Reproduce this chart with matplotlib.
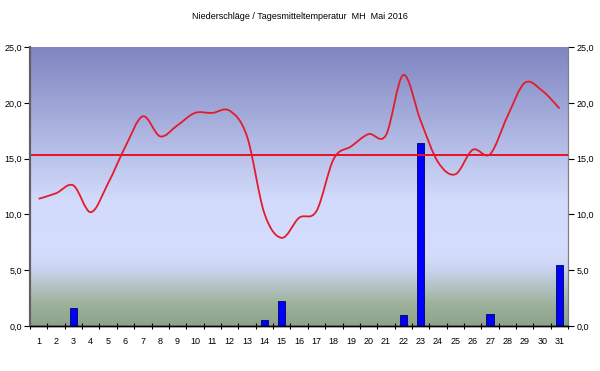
import matplotlib.pyplot as plt
import numpy as np
from matplotlib.colors import LinearSegmentedColormap
from matplotlib.path import Path
from matplotlib.patches import PathPatch

plt.rcParams['font.family'] = ['Liberation Sans', 'DejaVu Sans']

days = list(range(1, 32))
temp = [11.4, 11.9, 12.6, 10.2, 12.8, 16.1, 18.8, 17.0, 18.0, 19.1,
        19.1, 19.3, 17.0, 10.1, 7.9, 9.7, 10.3, 15.0, 16.1, 17.2,
        17.1, 22.5, 18.4, 14.7, 13.6, 15.8, 15.4, 18.8, 21.8, 21.1, 19.5]
rain = [0, 0, 1.6, 0, 0, 0, 0, 0, 0, 0,
        0, 0, 0, 0.5, 2.2, 0, 0, 0, 0, 0,
        0, 1.0, 16.4, 0, 0, 0, 1.1, 0, 0, 0, 5.5]
mean_temp = 15.3
yticks = [0, 5, 10, 15, 20, 25]
ylabels = ['0,0', '5,0', '10,0', '15,0', '20,0', '25,0']

fig = plt.figure(figsize=(6.0, 3.71), dpi=100)
ax = fig.add_axes([0.05, 0.1213, 0.897, 0.7517])
ax.set_xlim(0.5, 31.5)
ax.set_ylim(0, 25)

# background gradient (bottom -> top)
cmap = LinearSegmentedColormap.from_list('bg', [
    (0.0, '#8ca38a'), (0.08, '#9fb29c'), (0.2, '#c9d3ee'),
    (0.26, '#d4ddfd'), (0.45, '#d2dbfb'), (1.0, '#7f85c1')])
grad = np.linspace(0, 1, 256).reshape(-1, 1)
ax.imshow(grad, cmap=cmap, origin='lower', aspect='auto',
          extent=[0.5, 31.5, 0, 25], zorder=0)

ax.bar(days, rain, width=0.42, color='#0000ff', edgecolor='#000060',
       linewidth=0.6, zorder=2)

ax.axhline(mean_temp, color='#e8102a', lw=1.4, zorder=3)

# smoothed temperature line (Catmull-Rom style Bezier, like Excel)
pts = np.column_stack([days, temp]).astype(float)
ext = np.vstack([pts[0], pts, pts[-1]])
verts = [tuple(pts[0])]
codes = [Path.MOVETO]
for i in range(1, len(ext) - 2):
    p0, p1, p2, p3 = ext[i - 1], ext[i], ext[i + 1], ext[i + 2]
    c1 = p1 + (p2 - p0) / 6
    c2 = p2 - (p3 - p1) / 6
    verts += [tuple(c1), tuple(c2), tuple(p2)]
    codes += [Path.CURVE4] * 3
ax.add_patch(PathPatch(Path(verts, codes), facecolor='none',
                       edgecolor='#e41b2a', lw=1.3, zorder=4))

ax.set_yticks(yticks)
ax.set_yticklabels(ylabels)
ax.set_xticks(days)
ax.set_xticklabels([str(d) for d in days])
ax.set_xticks(np.arange(0.5, 32, 1), minor=True)
ax.tick_params(axis='x', which='major', length=0, pad=8, labelsize=6.5)
ax.tick_params(axis='x', which='minor', length=5, direction='inout',
               width=0.8)
ax.tick_params(axis='y', length=4, width=0.8, labelsize=6.5, pad=2)

ax2 = ax.twinx()
ax2.set_ylim(0, 25)
ax2.set_yticks(yticks)
ax2.set_yticklabels(ylabels)
ax2.tick_params(axis='y', length=4, width=0.8, labelsize=6.5, pad=2)

for a in (ax, ax2):
    a.spines['top'].set_visible(False)
    a.spines['left'].set_color('#606060')
    a.spines['left'].set_linewidth(1.5)
    a.spines['right'].set_color('#808080')
    a.spines['bottom'].set_color('black')
    a.spines['bottom'].set_linewidth(1.0)

fig.text(0.5, 0.955, 'Niederschläge / Tagesmitteltemperatur  MH  Mai 2016',
         ha='center', va='center', fontsize=6.5)

plt.savefig('out.png', dpi=100)
